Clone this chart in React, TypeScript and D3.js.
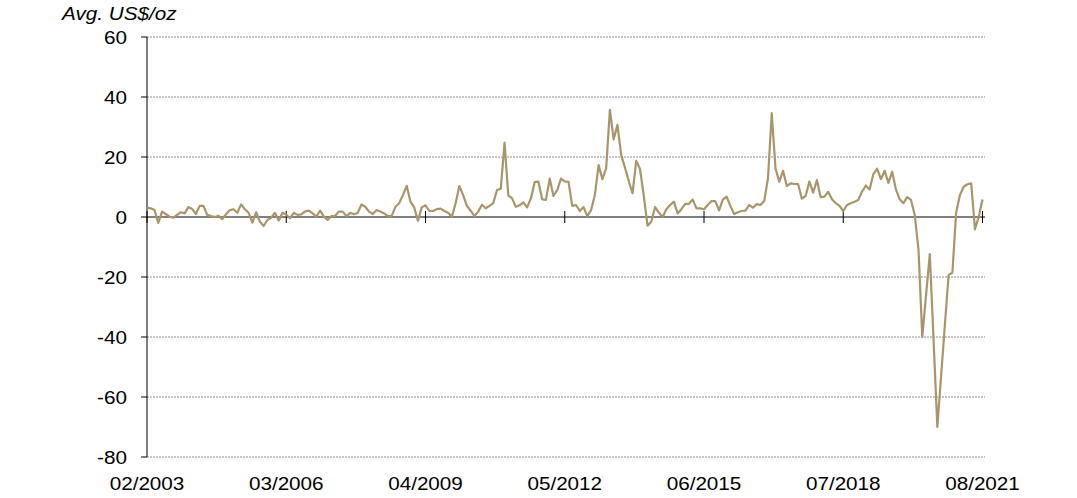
import React from "react";
import * as d3 from "d3";

const tickLabels = ["02/2003", "03/2006", "04/2009", "05/2012", "06/2015", "07/2018", "08/2021"];
const tickEvery = 37;
const yTicks = [60, 40, 20, 0, -20, -40, -60, -80];
const yTitle = "Avg. US$/oz";

// monthly values, 02/2003 .. 08/2021
const values2003to2008 = [
  3.1, 2.9, 2.3, -2, 1.8, 1, 0.1, -0.2, 0.7, 1.6, 1.2, 3.3, 2.7, 1, 3.7, 3.7, 0.7, 0.3, 0, 0.4,
  -0.7, 0.9, 2.3, 2.6, 1.4, 4.2, 2.6, 1.4, -1.9, 1.6, -1.6, -3, -1, -0.2, 1.4, -1.2, 1.4, 0.8,
  -0.4, 1.4, 0.7, 0.9, 1.9, 2.1, 1.2, 0.1, 2.1, 0.1, -1, 0.3, 0.4, 1.8, 1.8, 0.3, 1.4, 0.9, 1.4,
  4.2, 3.4, 1.8, 1, 2.3, 1.8, 1.2, 0.3, 0.3, 3.4, 4.6, 7.3, 10.4, 5.1, 3.2, -1.2, 3.2,
];
const values2009to2014 = [
  3.9, 2, 2, 2.6, 2.8, 2, 1.4, 0.1, 4.6, 10.3, 7.3, 3.7, 2.1, 0.3, 1.8, 4.1, 2.9, 3.7, 4.6, 9,
  9.4, 24.8, 7.2, 6.2, 3.4, 3.9, 4.9, 3.2, 6.2, 11.6, 11.8, 5.9, 5.7, 12.8, 7, 9, 12.8, 11.9, 11.7,
  3.7, 4.0, 2.0, 3.3, 0.3, 2.3, 7.3, 17.3, 12.6, 16.2, 35.7, 25.9, 30.7, 20.7, 16.5, 12, 7.9, 18.7,
  16, 7, -2.9, -1.6, 3.3, 1.5, 0, 2.6, 4, 5.1, 1.2, 2.6, 4.4, 4.4, 5.8, 2.9, 2.9,
];
const values2015to2021 = [
  2.6, 4, 5.3, 5.3, 2.2, 5.8, 6.8, 3.7, 1, 1.6, 2, 2.1, 4, 3.1, 4.3, 4, 5.3, 12.9, 34.6, 16.2,
  11.8, 15.4, 10.3, 11.2, 11, 11, 6.1, 7, 11.8, 8.1, 12.3, 6.6, 6.8, 8.4, 5.9, 4.6, 3.7, 2, 4,
  4.6, 5.1, 5.7, 8.5, 10.5, 9.2, 14.3, 16.1, 12.6, 15.4, 11.4, 15.1, 9.2, 5.9, 4.6, 6.6, 5.7, 0.7,
  -11, -40, -26, -12.4, -41, -70, -53, -36, -19.3, -18.6, 1.5, 7.3, 10.1, 10.9, 11.2, -4.1, 0.1, 5.8,
];

const values = [...values2003to2008, ...values2009to2014, ...values2015to2021];

const W = 1077;
const H = 498;
const left = 147;
const right = 982.5;
const gridRight = 985;
const top = 37;
const bottom = 457;
const font = "'Liberation Sans', Arial, sans-serif";
const lineColor = "#A8956A";
const stretch = 1.15;

function Label(props: { x: number; y: number; anchor?: string; italic?: boolean; children: React.ReactNode }) {
  return (
    <text
      transform={`translate(${props.x},${props.y}) scale(${stretch},1)`}
      fontSize={18}
      textAnchor={props.anchor || "start"}
      fontStyle={props.italic ? "italic" : "normal"}
      fill="#000"
    >
      {props.children}
    </text>
  );
}

export default function App() {
  const n = values.length;
  const x = d3.scaleLinear().domain([0, n - 1]).range([left, right]);
  const y = d3.scaleLinear().domain([-80, 60]).range([bottom, top]);
  const line = d3
    .line<number>()
    .x((_, i) => x(i))
    .y((d) => y(d));
  const tickIdx = tickLabels.map((_, k) => k * tickEvery);

  return (
    <svg
      width={W}
      height={H}
      style={{ position: "absolute", left: 0, top: 0, background: "#fff" }}
      fontFamily={font}
    >
      <rect width={W} height={H} fill="#fff" />
      {yTicks.map((t) =>
        t === 0 ? null : (
          <line
            key={"g" + t}
            x1={left}
            x2={gridRight}
            y1={y(t)}
            y2={y(t)}
            stroke="#7f7f7f"
            strokeWidth={0.9}
            strokeDasharray="2,1"
          />
        )
      )}
      <line x1={left} x2={left} y1={top} y2={bottom} stroke="#000" strokeWidth={1} />
      {yTicks.map((t) => (
        <g key={"t" + t}>
          <line x1={left - 6} x2={left} y1={y(t)} y2={y(t)} stroke="#000" strokeWidth={1} />
          <Label x={127} y={y(t) + 7} anchor="end">
            {t}
          </Label>
        </g>
      ))}
      <line x1={left} x2={gridRight} y1={y(0)} y2={y(0)} stroke="#000" strokeWidth={1} />
      {tickIdx.map((i) => (
        <line key={"xt" + i} x1={x(i)} x2={x(i)} y1={y(0) - 6} y2={y(0) + 6} stroke="#000" strokeWidth={1} />
      ))}
      {tickIdx.map((i, k) => (
        <Label key={"xl" + i} x={x(i)} y={490} anchor="middle">
          {tickLabels[k]}
        </Label>
      ))}
      <path d={line(values) || ""} fill="none" stroke={lineColor} strokeWidth={2.2} strokeLinejoin="round" />
      <Label x={62} y={20} italic>
        {yTitle}
      </Label>
    </svg>
  );
}
